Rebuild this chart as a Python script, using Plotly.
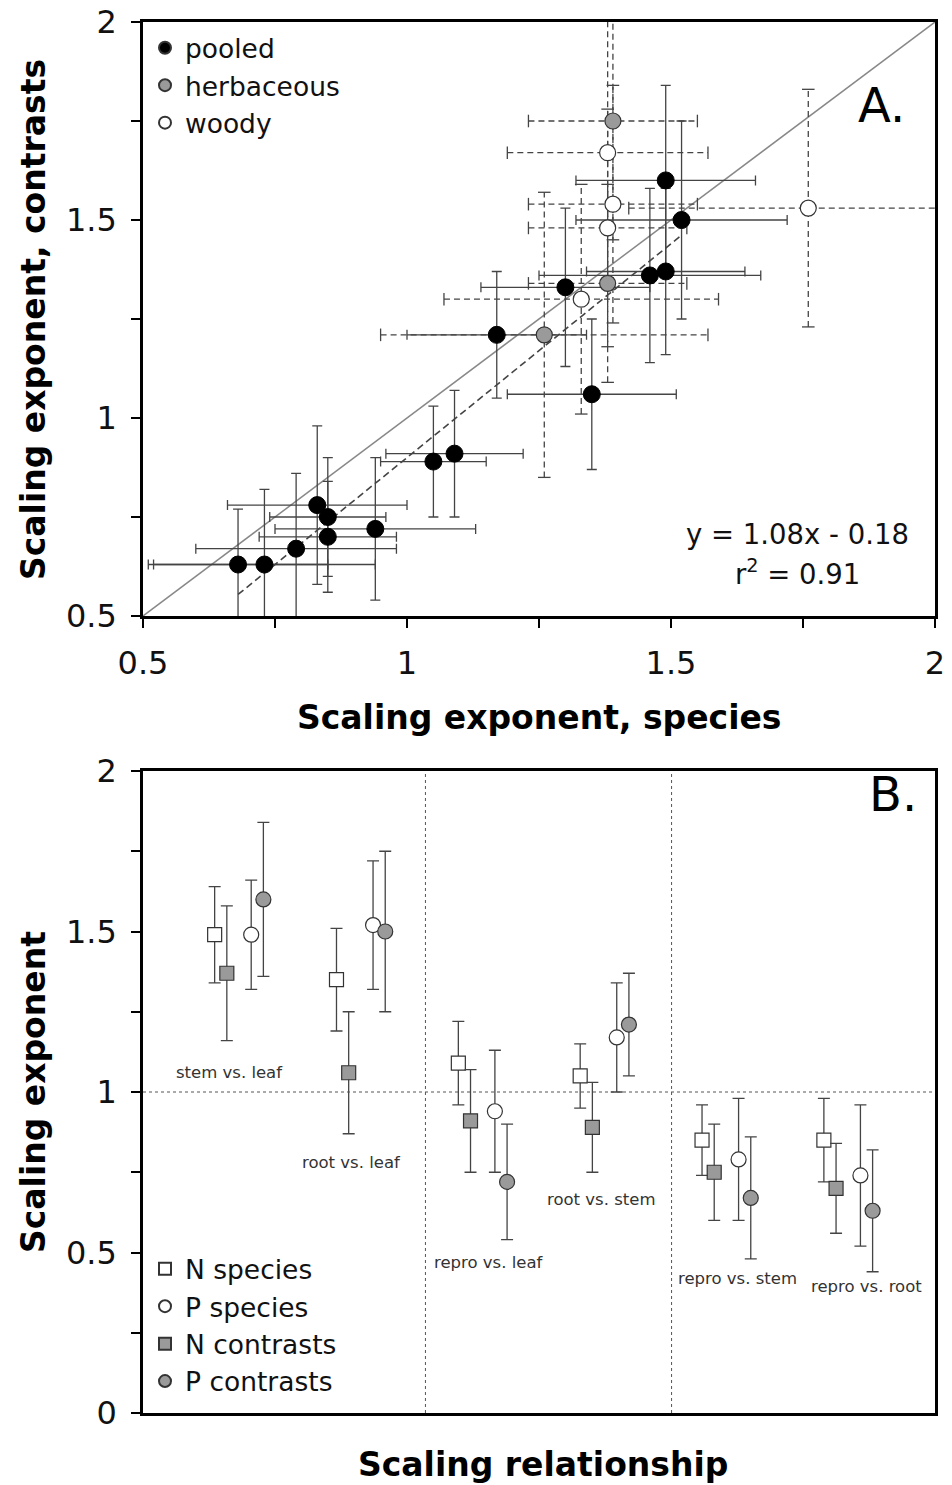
import plotly.graph_objects as go

# ---------------- Panel A: species vs. contrasts scaling exponents ----------------
pooled_x = [0.68, 0.73, 0.79, 0.83, 0.85, 0.85, 0.94, 1.05, 1.09, 1.17, 1.30, 1.35, 1.46, 1.49, 1.49, 1.52]
pooled_y = [0.63, 0.63, 0.67, 0.78, 0.75, 0.70, 0.72, 0.89, 0.91, 1.21, 1.33, 1.06, 1.36, 1.37, 1.60, 1.50]
pooled_xerr = [0.17, 0.21, 0.19, 0.17, 0.11, 0.13, 0.19, 0.10, 0.13, 0.17, 0.16, 0.16, 0.21, 0.15, 0.17, 0.20]
pooled_yerr = [0.14, 0.19, 0.19, 0.20, 0.15, 0.14, 0.18, 0.14, 0.16, 0.16, 0.20, 0.19, 0.22, 0.21, 0.24, 0.25]

herb_x = [1.26, 1.38, 1.39]
herb_y = [1.21, 1.34, 1.75]
herb_xerr = [0.31, 0.15, 0.16]
herb_yerr = [0.36, 0.25, 0.30]

woody_x = [1.33, 1.38, 1.39, 1.38, 1.76]
woody_y = [1.30, 1.48, 1.54, 1.67, 1.53]
woody_xerr = [0.26, 0.15, 0.16, 0.19, 0.34]
woody_yerr = [0.29, 0.30, 0.30, 0.34, 0.30]

fit_slope = 1.08
fit_intercept = -0.18
fit_r2 = 0.91

axis_a_ticks = [0.5, 1.0, 1.5, 2.0]
axis_a_labels = ["0.5", "1", "1.5", "2"]

# ---------------- Panel B: exponents by scaling relationship ----------------
relationships = ["stem vs. leaf", "root vs. leaf", "repro vs. leaf",
                 "root vs. stem", "repro vs. stem", "repro vs. root"]
n_species = [1.49, 1.35, 1.09, 1.05, 0.85, 0.85]
n_species_err = [0.15, 0.16, 0.13, 0.10, 0.11, 0.13]
n_contrasts = [1.37, 1.06, 0.91, 0.89, 0.75, 0.70]
n_contrasts_err = [0.21, 0.19, 0.16, 0.14, 0.15, 0.14]
p_species = [1.49, 1.52, 0.94, 1.17, 0.79, 0.74]
p_species_err = [0.17, 0.20, 0.19, 0.17, 0.19, 0.22]
p_contrasts = [1.60, 1.50, 0.72, 1.21, 0.67, 0.63]
p_contrasts_err = [0.24, 0.25, 0.18, 0.16, 0.19, 0.19]

axis_b_ticks = [0, 0.5, 1.0, 1.5, 2.0]
axis_b_labels = ["0", "0.5", "1", "1.5", "2"]

# ---------------- styling ----------------
FONT = "DejaVu Sans"
W, H = 952, 1485
GRAY = "#9a9a9a"
EDGE = "#333333"
BAR = "#444444"

# category label placement (x offset from group centre, y in axis units)
rel_label_dx = [-0.08, -0.08, 0.05, -0.03, 0.09, 0.15]
rel_label_y = [1.06, 0.78, 0.47, 0.665, 0.42, 0.395]
# marker offsets within a group
offsets = {"Ns": -0.2, "Nc": -0.1, "Ps": 0.1, "Pc": 0.2}
separators = [1.53, 3.55]


def px(x):
    return x / W


def py(y):
    return 1 - y / H


fig = go.Figure()

# reference 1:1 line and fitted regression (panel A)
fig.add_trace(go.Scatter(x=[0.5, 2.0], y=[0.5, 2.0], mode="lines",
                         line=dict(color="#888888", width=1.5),
                         showlegend=False, hoverinfo="skip", xaxis="x", yaxis="y"))
fx0, fx1 = min(pooled_x), max(pooled_x)
fig.add_trace(go.Scatter(x=[fx0, fx1],
                         y=[fit_slope * fx0 + fit_intercept, fit_slope * fx1 + fit_intercept],
                         mode="lines", line=dict(color="#444444", width=1.6, dash="7px,4px"),
                         showlegend=False, hoverinfo="skip", xaxis="x", yaxis="y"))


def dashed_bars(xs, ys, xe, ye):
    """Build dashed error-bar segments and their end caps from data."""
    lx, ly = [], []
    hx, hy, vx, vy = [], [], [], []
    for x, y, ex, ey in zip(xs, ys, xe, ye):
        lx += [x - ex, x + ex, None, x, x, None]
        ly += [y, y, None, y - ey, y + ey, None]
        hx += [x - ex, x + ex]
        hy += [y, y]
        vx += [x, x]
        vy += [y - ey, y + ey]
    fig.add_trace(go.Scatter(x=lx, y=ly, mode="lines",
                             line=dict(color=BAR, width=1.3, dash="6px,4px"),
                             showlegend=False, hoverinfo="skip", xaxis="x", yaxis="y"))
    fig.add_trace(go.Scatter(x=hx, y=hy, mode="markers",
                             marker=dict(symbol="line-ns-open", size=9, color=BAR,
                                         line=dict(color=BAR, width=1.3)),
                             showlegend=False, hoverinfo="skip", xaxis="x", yaxis="y"))
    fig.add_trace(go.Scatter(x=vx, y=vy, mode="markers",
                             marker=dict(symbol="line-ew-open", size=9, color=BAR,
                                         line=dict(color=BAR, width=1.3)),
                             showlegend=False, hoverinfo="skip", xaxis="x", yaxis="y"))


dashed_bars(herb_x, herb_y, herb_xerr, herb_yerr)
dashed_bars(woody_x, woody_y, woody_xerr, woody_yerr)

# pooled: solid error bars
fig.add_trace(go.Scatter(
    x=pooled_x, y=pooled_y, mode="markers",
    marker=dict(color="black", size=17, line=dict(color="black", width=1)),
    error_x=dict(type="data", array=pooled_xerr, color=BAR, thickness=1.3, width=5),
    error_y=dict(type="data", array=pooled_yerr, color=BAR, thickness=1.3, width=5),
    showlegend=False, xaxis="x", yaxis="y"))
fig.add_trace(go.Scatter(x=herb_x, y=herb_y, mode="markers",
                         marker=dict(color=GRAY, size=16, line=dict(color=EDGE, width=1.2)),
                         showlegend=False, xaxis="x", yaxis="y"))
fig.add_trace(go.Scatter(x=woody_x, y=woody_y, mode="markers",
                         marker=dict(color="white", size=16, line=dict(color=EDGE, width=1.2)),
                         showlegend=False, xaxis="x", yaxis="y"))

# legend entries for panel A
for name, fill in [("pooled", "black"), ("herbaceous", GRAY), ("woody", "white")]:
    fig.add_trace(go.Scatter(x=[None], y=[None], mode="markers", name=name,
                             marker=dict(color=fill, size=12, line=dict(color=EDGE, width=1)),
                             legend="legend", legendgroup=name, xaxis="x", yaxis="y"))

# ---------------- panel B traces ----------------
groups = list(range(len(relationships)))
series_b = [
    ("N species", n_species, n_species_err, "square", "white", "Ns"),
    ("P species", p_species, p_species_err, "circle", "white", "Ps"),
    ("N contrasts", n_contrasts, n_contrasts_err, "square", GRAY, "Nc"),
    ("P contrasts", p_contrasts, p_contrasts_err, "circle", GRAY, "Pc"),
]
for name, vals, errs, sym, fill, key in series_b:
    fig.add_trace(go.Scatter(
        x=[g + offsets[key] for g in groups], y=vals, mode="markers",
        marker=dict(symbol=sym, color=fill, size=15 if sym == "circle" else 14,
                    line=dict(color=EDGE, width=1.2)),
        error_y=dict(type="data", array=errs, color=BAR, thickness=1.3, width=6),
        showlegend=False, xaxis="x2", yaxis="y2"))
for name, vals, errs, sym, fill, key in series_b:
    fig.add_trace(go.Scatter(x=[None], y=[None], mode="markers", name=name,
                             marker=dict(symbol=sym, color=fill, size=12,
                                         line=dict(color=EDGE, width=1)),
                             legend="legend2", legendgroup=name, xaxis="x2", yaxis="y2"))

# category labels
for g, lab, dx, ly in zip(groups, relationships, rel_label_dx, rel_label_y):
    fig.add_annotation(x=g + dx, y=ly, xref="x2", yref="y2", text=lab, showarrow=False,
                       xanchor="center", yanchor="middle",
                       font=dict(family=FONT, size=16.5, color="#333333"))

# dashed reference lines in panel B
fig.add_shape(type="line", xref="x2 domain", yref="y2", x0=0, x1=1, y0=1, y1=1,
              line=dict(color="#555555", width=1, dash="3px,3px"))
for s in separators:
    fig.add_shape(type="line", xref="x2", yref="y2 domain", x0=s, x1=s, y0=0, y1=1,
                  line=dict(color="#555555", width=1, dash="3px,3px"))

# ---------------- axes ----------------
xdom = [143 / W, 935 / W]
axis_common = dict(showgrid=False, zeroline=False, showline=True, mirror=True,
                   linecolor="black", linewidth=2.5, ticks="outside", ticklen=9,
                   tickwidth=2, tickcolor="black", automargin=False,
                   ticklabelstandoff=8,
                   minor=dict(ticks="outside", dtick=0.25, ticklen=9, tickwidth=2,
                              tickcolor="black"),
                   tickfont=dict(family=FONT, size=32, color="#111111"))

legend_font = dict(family=FONT, size=26.5, color="#111111")
fig.update_layout(
    width=W, height=H, margin=dict(l=0, r=0, t=0, b=0, autoexpand=False),
    paper_bgcolor="white", plot_bgcolor="white",
    font=dict(family=FONT, color="#111111"),
    xaxis=dict(domain=xdom, range=[0.5, 2.0], anchor="y",
               tickvals=axis_a_ticks, ticktext=axis_a_labels, **axis_common),
    yaxis=dict(domain=[py(616), py(22)], range=[0.5, 2.0], anchor="x",
               tickvals=axis_a_ticks, ticktext=axis_a_labels, **axis_common),
    xaxis2=dict(domain=xdom, range=[-0.788, 5.712], anchor="y2", automargin=False,
                showgrid=False, zeroline=False, showline=True, mirror=True,
                linecolor="black", linewidth=2.5, ticks="", showticklabels=False),
    yaxis2=dict(domain=[py(1413), py(771)], range=[0, 2.0], anchor="x2",
                tickvals=axis_b_ticks, ticktext=axis_b_labels, **axis_common),
    legend=dict(x=px(145), y=py(24), xanchor="left", yanchor="top",
                bgcolor="rgba(0,0,0,0)", font=legend_font,
                itemsizing="constant", tracegroupgap=0),
    legend2=dict(x=px(145), y=py(1245), xanchor="left", yanchor="top",
                 bgcolor="rgba(0,0,0,0)", font=legend_font,
                 itemsizing="constant", tracegroupgap=0),
)

# panel letters, fit text, axis titles
fig.add_annotation(x=px(907), y=py(105), xref="paper", yref="paper", text="A.",
                   showarrow=False, xanchor="right", yanchor="middle",
                   font=dict(family=FONT, size=48, color="black"))
fig.add_annotation(x=px(919), y=py(794), xref="paper", yref="paper", text="B.",
                   showarrow=False, xanchor="right", yanchor="middle",
                   font=dict(family=FONT, size=48, color="black"))
fig.add_annotation(x=px(797), y=py(534), xref="paper", yref="paper",
                   text=f"y = {fit_slope:.2f}x - {abs(fit_intercept):.2f}",
                   showarrow=False, xanchor="center", yanchor="middle",
                   font=dict(family=FONT, size=27.5, color="#111111"))
fig.add_annotation(x=px(797), y=py(572), xref="paper", yref="paper",
                   text=f"r<sup>2</sup> = {fit_r2:.2f}",
                   showarrow=False, xanchor="center", yanchor="middle",
                   font=dict(family=FONT, size=27.5, color="#111111"))

title_font = dict(family=FONT, size=33, color="black")
fig.add_annotation(x=px(539), y=py(718), xref="paper", yref="paper",
                   text="<b>Scaling exponent, species</b>", showarrow=False,
                   xanchor="center", yanchor="middle", font=title_font)
fig.add_annotation(x=px(33), y=py(320), xref="paper", yref="paper", textangle=-90,
                   text="<b>Scaling exponent, contrasts</b>", showarrow=False,
                   xanchor="center", yanchor="middle", font=title_font)
fig.add_annotation(x=px(33), y=py(1092), xref="paper", yref="paper", textangle=-90,
                   text="<b>Scaling exponent</b>", showarrow=False,
                   xanchor="center", yanchor="middle", font=title_font)
fig.add_annotation(x=px(543), y=py(1464), xref="paper", yref="paper",
                   text="<b>Scaling relationship</b>", showarrow=False,
                   xanchor="center", yanchor="middle", font=title_font)

fig.write_html("out.html")
